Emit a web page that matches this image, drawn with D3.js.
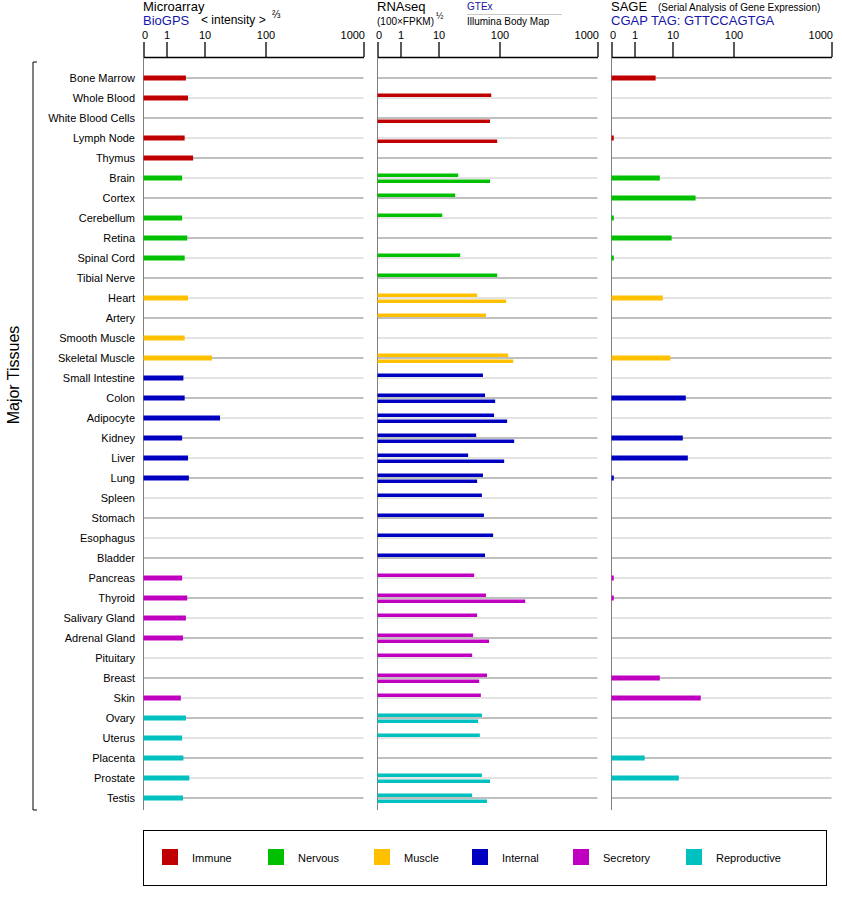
<!DOCTYPE html>
<html><head><meta charset="utf-8">
<script src="https://cdn.jsdelivr.net/npm/d3@7"></script>
<style>body{margin:0;background:#fff}text{font-family:"Liberation Sans",Arial,sans-serif}</style>
</head><body><svg id="c" width="842" height="900"></svg>
<script>
const tissues=["Bone Marrow","Whole Blood","White Blood Cells","Lymph Node","Thymus","Brain","Cortex","Cerebellum","Retina","Spinal Cord","Tibial Nerve","Heart","Artery","Smooth Muscle","Skeletal Muscle","Small Intestine","Colon","Adipocyte","Kidney","Liver","Lung","Spleen","Stomach","Esophagus","Bladder","Pancreas","Thyroid","Salivary Gland","Adrenal Gland","Pituitary","Breast","Skin","Ovary","Uterus","Placenta","Prostate","Testis"];
const groups=["Immune","Nervous","Muscle","Internal","Secretory","Reproductive"];
const groupColors=["#c00000","#00c000","#ffc000","#0000c0","#c000c0","#00c0c0"];
const tissueGroup=[0,0,0,0,0,1,1,1,1,1,1,2,2,2,2,3,3,3,3,3,3,3,3,3,3,4,4,4,4,4,4,4,5,5,5,5,5];
const microarray=[5.6,6.1,null,5.3,7.3,4.7,null,4.7,5.9,5.3,null,6.1,null,5.3,21,5.0,5.3,32.9,4.7,6.1,6.3,null,null,null,null,4.7,5.9,5.6,4.9,null,null,4.4,5.6,4.7,5.0,6.4,4.9];
const gtex=[null,87.8,null,null,null,39,34.6,15.5,null,42,96.6,67,80,null,180,75.6,78.6,92,65.6,53.7,75.6,74,77,90.6,78.6,62.6,80,67,61,59.6,81.5,72.5,74,71,null,74,59.6];
const illumina=[null,null,86,96.6,null,86,null,null,null,null,null,161,null,null,226,null,93.6,170,235,143,67,null,null,null,null,null,336,null,84.6,null,70,null,68.5,null,null,86,81.5];
const sage=[6.0,null,null,0.1,null,7.0,44,0.1,9.8,0.1,null,7.7,null,null,9.5,null,29.6,null,25.2,32.6,0.1,null,null,null,null,0.1,0.1,null,null,null,7.0,51.7,null,null,3.4,19.3,null];
const tickValues=[0,1,10,100,1000];
const tickLabels=["0","1","10","100","1000"];

const svg=d3.select("#c");
const panels=[143.5,377.5,611.5];
const tickOffsets=[0,23,61,122,220];
const mk=x0=>d3.scaleLinear().domain(tickValues).range(tickOffsets.map(o=>x0+o)).clamp(true);
const scales=panels.map(mk);
const y=d3.scalePoint().domain(tissues).range([78,798]);
const axisY=57, bottom=810;

panels.forEach((x0,pi)=>{
  const s=scales[pi];
  svg.append("g").selectAll("line").data(tissues).join("line")
    .attr("x1",x0).attr("x2",x0+220).attr("y1",d=>y(d)).attr("y2",d=>y(d))
    .attr("stroke",(d,i)=>i%2==0?"#808080":"#c8c8c8").attr("stroke-width",1);
  svg.append("line").attr("x1",x0).attr("x2",x0).attr("y1",axisY).attr("y2",bottom).attr("stroke","#808080");
  const ax=d3.axisTop(s).tickValues(tickValues).tickFormat((d,i)=>tickLabels[i]).tickSize(15).tickSizeOuter(0);
  const g=svg.append("g").attr("transform",`translate(0,${axisY})`).call(ax);
  g.select(".domain").attr("stroke","#000").attr("stroke-width",1.3);
  g.selectAll(".tick line").attr("stroke","#000").attr("stroke-width",1.3);
  g.selectAll(".tick text").attr("font-size",11).attr("fill","#000").attr("font-family","Liberation Sans,Arial")
    .attr("text-anchor",(d,i)=>i==0?"start":i==4?"end":"middle").attr("dx",(d,i)=>i==0?-2:i==4?1:0);
});

function bars(data,si,dy,h){
  const s=scales[si];
  svg.append("g").selectAll("rect").data(data.map((v,i)=>({v,i})).filter(d=>d.v!=null)).join("rect")
    .attr("x",s(0)).attr("y",d=>y(tissues[d.i])+dy).attr("height",h)
    .attr("width",d=>Math.max(2,s(d.v)-s(0)))
    .attr("fill",d=>groupColors[tissueGroup[d.i]]);
}
bars(microarray,0,-2.5,5);
bars(gtex,1,-4.5,3.5);
bars(illumina,1,1.5,3.5);
bars(sage,2,-2.5,5);

svg.append("g").selectAll("text").data(tissues).join("text")
  .attr("x",135).attr("y",d=>y(d)+4).attr("text-anchor","end").attr("font-size",11).text(d=>d);

svg.append("path").attr("d","M37,62 H33 V810 H37").attr("fill","none").attr("stroke","#000");
svg.append("text").attr("transform","translate(19,375) rotate(-90)").attr("text-anchor","middle").attr("font-size",16).text("Major Tissues");

const T=(x,yy,t,fs,col)=>svg.append("text").attr("x",x).attr("y",yy).attr("font-size",fs).attr("fill",col||"#000").text(t);
T(143,11,"Microarray",13);
T(143,25,"BioGPS",13,"#1515a8");
T(201,24,"< intensity >",12);
T(272,18,"⅔",10);
T(377,11,"RNAseq",13);
T(377,25,"(100×FPKM)",10);
T(436,19,"½",9);
T(467,10,"GTEx",10,"#1515a8");
svg.append("line").attr("x1",467).attr("x2",562).attr("y1",14.5).attr("y2",14.5).attr("stroke","#c8c8c8");
T(467,25,"Illumina Body Map",10);
T(611,11,"SAGE",13);
T(658,11,"(Serial Analysis of Gene Expression)",10);
T(611,25,"CGAP TAG: GTTCCAGTGA",13,"#1515a8");

svg.append("rect").attr("x",143.5).attr("y",830.5).attr("width",683).attr("height",55).attr("fill","none").attr("stroke","#000");
const lx=[162,268,374,472,573,686];
const lg=svg.append("g").selectAll("g").data(groups).join("g").attr("transform",(d,i)=>`translate(${lx[i]},849)`);
lg.append("rect").attr("width",16).attr("height",16).attr("fill",(d,i)=>groupColors[i]);
lg.append("text").attr("x",30).attr("y",12.5).attr("font-size",11).text(d=>d);
</script></body></html>
